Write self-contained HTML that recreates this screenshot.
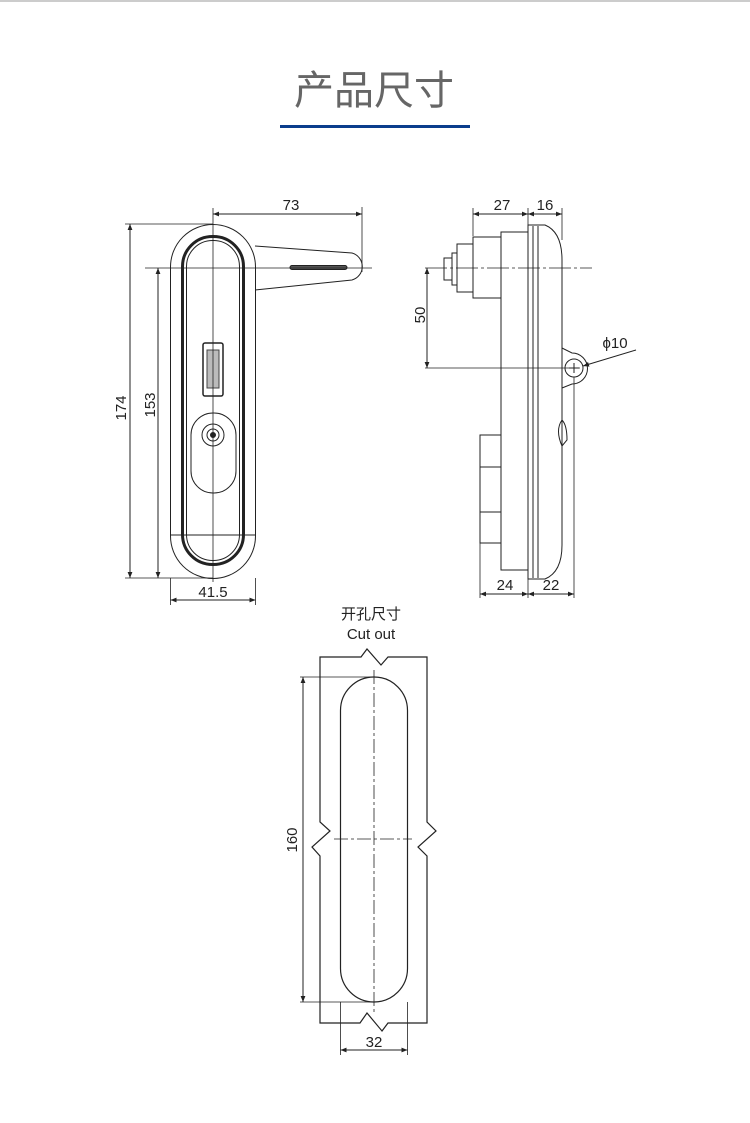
<!DOCTYPE html>
<html><head><meta charset="utf-8"><style>
html,body{margin:0;padding:0;background:#fff;width:750px;height:1123px;overflow:hidden}
svg{display:block}
text{font-family:"Liberation Sans","Noto Sans CJK SC",sans-serif;fill:#222}
</style></head><body>
<svg width="750" height="1123" viewBox="0 0 750 1123">
<defs>
<marker id="a" viewBox="0 0 10 10" refX="10" refY="5" markerWidth="9" markerHeight="6" orient="auto-start-reverse" markerUnits="userSpaceOnUse"><path d="M0,1 L10,5 L0,9 z" fill="#222"/></marker>
</defs>
<line x1="0" y1="1" x2="750" y2="1" stroke="#ccc" stroke-width="2"/>
<text x="374" y="104" font-size="40" text-anchor="middle" style="fill:#666">产品尺寸</text>
<rect x="280" y="125" width="190" height="3" fill="#0b3d8c"/>

<g fill="none" stroke="#222" stroke-width="1">
<!-- FRONT VIEW -->
<path d="M255,246 L352,253 A14,14 0 0 1 352,280 L255,290" />
<rect x="290" y="265.5" width="57" height="4" rx="2" fill="#555"/>
<rect x="170.5" y="224.5" width="85" height="354" rx="42.5" fill="#fff"/>
<rect x="182.5" y="236.5" width="61" height="328" rx="30" stroke-width="3"/>
<rect x="186.5" y="240.5" width="53" height="320" rx="26"/>
<line x1="170.5" y1="535" x2="255.5" y2="535"/>
<rect x="203" y="343" width="20" height="53" rx="2" stroke-width="1.5"/>
<rect x="207" y="350" width="12" height="38" fill="#bbb" stroke="#444"/>
<rect x="191" y="413" width="45" height="80" rx="22"/>
<circle cx="213" cy="435" r="11"/>
<circle cx="213" cy="435" r="6"/>
<circle cx="213" cy="435" r="2.5" fill="#222"/>
<line x1="145" y1="268" x2="372" y2="268" stroke-width="0.8"/>
<line x1="213" y1="208" x2="213" y2="582" stroke-width="0.8"/>
<!-- dims -->
<line x1="362" y1="207" x2="362" y2="272" stroke-width="0.8"/>
<line x1="213" y1="214" x2="362" y2="214" marker-start="url(#a)" marker-end="url(#a)"/>
<line x1="125" y1="224" x2="213" y2="224" stroke-width="0.8"/>
<line x1="125" y1="578" x2="213" y2="578" stroke-width="0.8"/>
<line x1="130" y1="224" x2="130" y2="578" marker-start="url(#a)" marker-end="url(#a)"/>
<line x1="158" y1="268" x2="158" y2="578" marker-start="url(#a)" marker-end="url(#a)"/>
<line x1="170.5" y1="578" x2="170.5" y2="605" stroke-width="0.8"/>
<line x1="255.5" y1="578" x2="255.5" y2="605" stroke-width="0.8"/>
<line x1="170.5" y1="600" x2="255.5" y2="600" marker-start="url(#a)" marker-end="url(#a)"/>

<!-- SIDE VIEW -->
<rect x="444" y="258" width="8" height="22"/>
<rect x="452" y="253" width="5" height="32"/>
<rect x="457" y="244" width="16" height="48"/>
<rect x="473" y="237" width="28" height="61"/>
<rect x="480" y="435" width="21" height="108"/>
<line x1="480" y1="467" x2="501" y2="467"/><line x1="480" y1="512" x2="501" y2="512"/>
<rect x="501" y="232" width="27" height="338"/>
<path d="M528,225 L545,225 Q562,232 562,260 L562,545 Q562,572 545,579 L528,579 Z" fill="#fff"/>
<line x1="533" y1="226" x2="533" y2="578"/>
<line x1="538" y1="226" x2="538" y2="578"/>
<path d="M562,348 L572,353 A15,15 0 0 1 572,384 L562,388"/>
<circle cx="574" cy="368" r="9"/>
<line x1="569" y1="368" x2="579" y2="368"/><line x1="574" y1="363" x2="574" y2="373"/>
<path d="M562,420 Q567,425 567,440 L562,446 Q555,430 562,420"/>
<line x1="425" y1="268" x2="592" y2="268" stroke-width="0.8" stroke-dasharray="22,3,3,3"/>
<line x1="425" y1="368" x2="580" y2="368" stroke-width="0.8"/>
<line x1="473" y1="208" x2="473" y2="236" stroke-width="0.8"/>
<line x1="528" y1="208" x2="528" y2="225" stroke-width="0.8"/>
<line x1="562" y1="208" x2="562" y2="240" stroke-width="0.8"/>
<line x1="473" y1="214" x2="528" y2="214" marker-start="url(#a)" marker-end="url(#a)"/>
<line x1="528" y1="214" x2="562" y2="214" marker-start="url(#a)" marker-end="url(#a)"/>
<line x1="427" y1="268" x2="427" y2="368" marker-start="url(#a)" marker-end="url(#a)"/>
<line x1="636" y1="350" x2="583" y2="366" marker-end="url(#a)"/>
<line x1="480" y1="543" x2="480" y2="598" stroke-width="0.8"/>
<line x1="528" y1="579" x2="528" y2="598" stroke-width="0.8"/>
<line x1="574" y1="377" x2="574" y2="598" stroke-width="0.8"/>
<line x1="480" y1="594" x2="528" y2="594" marker-start="url(#a)" marker-end="url(#a)"/>
<line x1="528" y1="594" x2="574" y2="594" marker-start="url(#a)" marker-end="url(#a)"/>

<!-- CUTOUT -->
<path d="M320,657 L361,657 L367,649 L381,665 L388,657 L427,657 L427,822 L436,831 L418,847 L427,856 L427,1023 L388,1023 L382,1031 L367,1013 L360,1023 L320,1023 L320,856 L312,847 L330,831 L320,822 Z" stroke-width="1.2"/>
<rect x="340.5" y="677" width="67" height="325" rx="33.5" stroke-width="1.2"/>
<line x1="374" y1="670" x2="374" y2="1012" stroke-width="0.8" stroke-dasharray="14,3,3,3"/>
<line x1="334" y1="839" x2="412" y2="839" stroke-width="0.8" stroke-dasharray="14,3,3,3"/>
<line x1="300" y1="677" x2="374" y2="677" stroke-width="0.8"/>
<line x1="300" y1="1002" x2="374" y2="1002" stroke-width="0.8"/>
<line x1="303" y1="677" x2="303" y2="1002" marker-start="url(#a)" marker-end="url(#a)"/>
<line x1="340.5" y1="1002" x2="340.5" y2="1055" stroke-width="0.8"/>
<line x1="407.5" y1="1002" x2="407.5" y2="1055" stroke-width="0.8"/>
<line x1="340.5" y1="1050" x2="407.5" y2="1050" marker-start="url(#a)" marker-end="url(#a)"/>
</g>

<g font-size="15">
<text x="291" y="210" text-anchor="middle">73</text>
<text transform="translate(126,408) rotate(-90)" text-anchor="middle">174</text>
<text transform="translate(155,405) rotate(-90)" text-anchor="middle">153</text>
<text x="213" y="597" text-anchor="middle">41.5</text>
<text x="502" y="210" text-anchor="middle">27</text>
<text x="545" y="210" text-anchor="middle">16</text>
<text transform="translate(425,315) rotate(-90)" text-anchor="middle">50</text>
<text x="615" y="348" text-anchor="middle">ϕ10</text>
<text x="505" y="590" text-anchor="middle">24</text>
<text x="551" y="590" text-anchor="middle">22</text>
<text x="371" y="619" text-anchor="middle">开孔尺寸</text>
<text x="371" y="639" text-anchor="middle">Cut out</text>
<text transform="translate(297,840) rotate(-90)" text-anchor="middle">160</text>
<text x="374" y="1047" text-anchor="middle">32</text>
</g>
</svg>
</body></html>
